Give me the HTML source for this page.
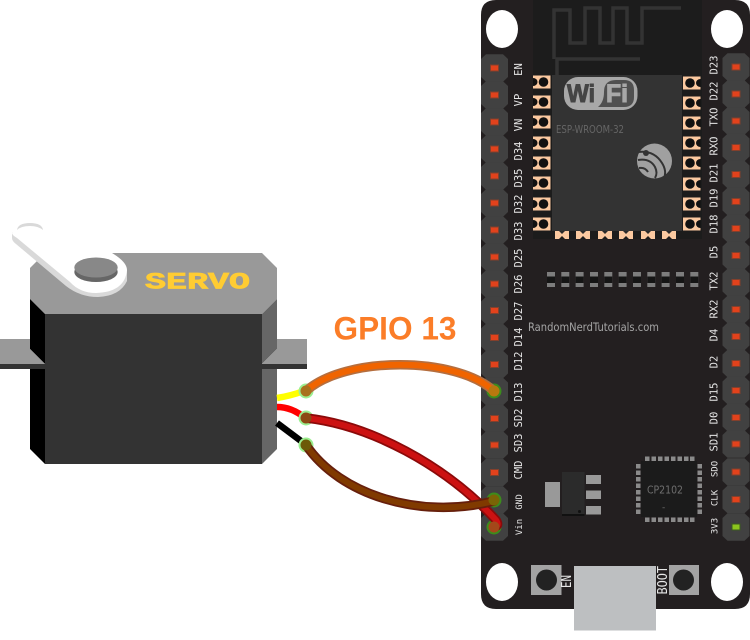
<!DOCTYPE html>
<html><head><meta charset="utf-8"><style>html,body{margin:0;padding:0;background:#fff;width:750px;height:640px;overflow:hidden}svg{display:block}</style></head><body>
<svg width="750" height="640" viewBox="0 0 750 640" xmlns="http://www.w3.org/2000/svg">
<defs>
<g id="pin"><polygon points="-13.5,-9 -8.5,-13.7 8.5,-13.7 13.5,-9 13.5,9 8.5,13.7 -8.5,13.7 -13.5,9" fill="#414141"/><rect x="-4.500" y="-3.500" width="9" height="7" fill="#84402c"/><rect x="-3.500" y="-2.500" width="7" height="5" fill="#e2421c"/></g>
<g id="padL"><rect x="-10.500" y="-6.500" width="17.500" height="13" fill="#fbc9a0"/><circle cx="0" cy="0" r="4.800" fill="#111"/><path d="M-10.500 -4A4.500 4 0 0 1 -10.500 4Z" fill="#111"/></g>
<g id="padR"><rect x="-7" y="-6.500" width="17.500" height="13" fill="#fbc9a0"/><circle cx="0" cy="0" r="4.800" fill="#111"/><path d="M10.500 -4A4.500 4 0 0 0 10.500 4Z" fill="#111"/></g>
<g id="padB"><rect x="-7" y="-4" width="14" height="8" fill="#fbc9a0"/><polygon points="-3,-4 0,-1 3,-4" fill="#2a2a2a"/><polygon points="-3,4 0,1 3,4" fill="#1c1c1c"/></g>
</defs>

<!-- Board -->
<path d="M496 0H735Q750 0 750 15V594Q750 609 735 609H496Q481 609 481 594V15Q481 0 496 0Z" fill="#231f20"/>
<ellipse cx="502" cy="29" rx="16" ry="19" fill="#fff"/><ellipse cx="727" cy="29" rx="16" ry="19" fill="#fff"/>
<ellipse cx="502" cy="582" rx="16" ry="19" fill="#fff"/><ellipse cx="727" cy="582" rx="16" ry="19" fill="#fff"/>

<!-- Module -->
<rect x="533" y="0" width="169" height="239" fill="#1c1c1c"/>
<rect x="552" y="75" width="130" height="156" fill="#333"/>
<g fill="none" stroke="#333" stroke-width="3.500">
<path d="M554 59V10H570V43H585V8H600V43H613V8H627V43H642V8H681"/>
<path d="M557 75V59H640"/>
</g>
<use href="#padL" x="543.500" y="82"/><use href="#padL" x="543.500" y="102"/><use href="#padL" x="543.500" y="122"/><use href="#padL" x="543.500" y="143"/><use href="#padL" x="543.500" y="163"/><use href="#padL" x="543.500" y="183"/><use href="#padL" x="543.500" y="204"/><use href="#padL" x="543.500" y="224"/>
<use href="#padR" x="690" y="83"/><use href="#padR" x="690" y="103"/><use href="#padR" x="690" y="123"/><use href="#padR" x="690" y="143"/><use href="#padR" x="690" y="163"/><use href="#padR" x="690" y="184"/><use href="#padR" x="690" y="204"/><use href="#padR" x="690" y="224"/>
<use href="#padB" x="562" y="235"/><use href="#padB" x="583" y="235"/><use href="#padB" x="605" y="235"/><use href="#padB" x="626" y="235"/><use href="#padB" x="648" y="235"/><use href="#padB" x="669" y="235"/>

<!-- WiFi logo -->
<rect x="564" y="77" width="73.500" height="33" rx="14" fill="#a8a8a8"/>
<path d="M598 107Q604 102 604 92Q604 80 616 80H624Q634 80 634 90V97Q634 107 624 107Z" fill="#505050"/>
<text x="567" y="102" font-family="'Liberation Sans',sans-serif" font-weight="bold" font-size="25" fill="#454545" stroke="#454545" stroke-width="1" textLength="28" lengthAdjust="spacingAndGlyphs">Wi</text>
<text x="606" y="102" font-family="'Liberation Sans',sans-serif" font-weight="bold" font-size="25" fill="#a8a8a8" stroke="#a8a8a8" stroke-width="1" textLength="22" lengthAdjust="spacingAndGlyphs">Fi</text>
<text x="556" y="133" font-family="'DejaVu Sans',sans-serif" font-size="10.500" fill="#666" textLength="68" lengthAdjust="spacingAndGlyphs">ESP-WROOM-32</text>
<!-- Espressif logo -->
<circle cx="654.500" cy="161" r="17.500" fill="#a0a0a0"/>
<g fill="none" stroke="#333" stroke-width="2">
<path d="M638 152Q654 150 662 163Q667 171 664 178"/>
<path d="M638 160Q650 158 655 167Q658 173 655 178"/>
<path d="M639 168Q645 167 648 172"/>
</g>
<circle cx="646" cy="153" r="3" fill="#333"/>

<!-- Dash row -->
<g fill="#7d7d7d">
<rect x="547" y="272" width="8" height="15"/><rect x="561.300" y="272" width="8" height="15"/><rect x="575.600" y="272" width="8" height="15"/><rect x="590" y="272" width="8" height="15"/><rect x="604.300" y="272" width="8" height="15"/><rect x="618.600" y="272" width="8" height="15"/><rect x="633" y="272" width="8" height="15"/><rect x="647.300" y="272" width="8" height="15"/><rect x="661.600" y="272" width="8" height="15"/><rect x="676" y="272" width="8" height="15"/><rect x="690.300" y="272" width="8" height="15"/>
</g>
<g fill="#151515">
<rect x="547" y="276.500" width="8" height="6.500"/><rect x="561.300" y="276.500" width="8" height="6.500"/><rect x="575.600" y="276.500" width="8" height="6.500"/><rect x="590" y="276.500" width="8" height="6.500"/><rect x="604.300" y="276.500" width="8" height="6.500"/><rect x="618.600" y="276.500" width="8" height="6.500"/><rect x="633" y="276.500" width="8" height="6.500"/><rect x="647.300" y="276.500" width="8" height="6.500"/><rect x="661.600" y="276.500" width="8" height="6.500"/><rect x="676" y="276.500" width="8" height="6.500"/><rect x="690.300" y="276.500" width="8" height="6.500"/>
</g>
<text x="528" y="331" font-family="'DejaVu Sans',sans-serif" font-size="11.500" fill="#a5a5a5" textLength="131" lengthAdjust="spacingAndGlyphs">RandomNerdTutorials.com</text>

<!-- Regulator -->
<rect x="545" y="482" width="15" height="25" fill="#999"/>
<rect x="562" y="472" width="22.500" height="44" fill="#2b2b2b"/><rect x="562" y="514" width="22.500" height="2" fill="#111"/>
<circle cx="579.500" cy="511.500" r="1.500" fill="#111"/>
<rect x="586" y="475" width="15" height="9" fill="#999"/><rect x="586" y="490.500" width="15" height="8.500" fill="#999"/><rect x="586" y="506" width="15" height="8.500" fill="#999"/>

<!-- CP2102 -->
<rect x="641" y="461" width="56" height="56" fill="#1b1b1b"/>
<g fill="#8a8a8a">
<rect x="645" y="456.500" width="4.500" height="4.500"/><rect x="651.500" y="456.500" width="4.500" height="4.500"/><rect x="658" y="456.500" width="4.500" height="4.500"/><rect x="664.500" y="456.500" width="4.500" height="4.500"/><rect x="671" y="456.500" width="4.500" height="4.500"/><rect x="677.500" y="456.500" width="4.500" height="4.500"/><rect x="684" y="456.500" width="4.500" height="4.500"/><rect x="690" y="456.500" width="4.500" height="4.500"/>
<rect x="645" y="517.500" width="4.500" height="4.500"/><rect x="651.500" y="517.500" width="4.500" height="4.500"/><rect x="658" y="517.500" width="4.500" height="4.500"/><rect x="664.500" y="517.500" width="4.500" height="4.500"/><rect x="671" y="517.500" width="4.500" height="4.500"/><rect x="677.500" y="517.500" width="4.500" height="4.500"/><rect x="684" y="517.500" width="4.500" height="4.500"/><rect x="690" y="517.500" width="4.500" height="4.500"/>
<rect x="636" y="464" width="4.500" height="4.500"/><rect x="636" y="470.500" width="4.500" height="4.500"/><rect x="636" y="477" width="4.500" height="4.500"/><rect x="636" y="483.500" width="4.500" height="4.500"/><rect x="636" y="490" width="4.500" height="4.500"/><rect x="636" y="496.500" width="4.500" height="4.500"/><rect x="636" y="503" width="4.500" height="4.500"/><rect x="636" y="509.500" width="4.500" height="4.500"/>
<rect x="697.500" y="464" width="4.500" height="4.500"/><rect x="697.500" y="470.500" width="4.500" height="4.500"/><rect x="697.500" y="477" width="4.500" height="4.500"/><rect x="697.500" y="483.500" width="4.500" height="4.500"/><rect x="697.500" y="490" width="4.500" height="4.500"/><rect x="697.500" y="496.500" width="4.500" height="4.500"/><rect x="697.500" y="503" width="4.500" height="4.500"/><rect x="697.500" y="509.500" width="4.500" height="4.500"/>
</g>
<text x="647" y="493.500" font-family="'DejaVu Sans',sans-serif" font-size="11" fill="#6f6f6f" textLength="36" lengthAdjust="spacingAndGlyphs">CP2102</text>
<text x="662" y="510" font-family="'DejaVu Sans',sans-serif" font-size="9" fill="#6f6f6f">-</text>

<!-- Buttons and USB -->
<rect x="531" y="565" width="30.500" height="30" fill="#a3a3a3"/><circle cx="546.500" cy="580" r="10.500" fill="#222"/>
<rect x="669" y="565" width="30" height="30" fill="#a3a3a3"/><circle cx="683.500" cy="580" r="10.500" fill="#222"/>
<rect x="574" y="566" width="82" height="64.500" fill="#bdbfc1"/>
<g font-family="'DejaVu Sans Mono',monospace" font-size="13" fill="#e8e8e8">
<text transform="translate(571,588) rotate(-90)" textLength="13" lengthAdjust="spacingAndGlyphs">EN</text>
<text transform="translate(667,594.500) rotate(-90)" textLength="28.500" lengthAdjust="spacingAndGlyphs">BOOT</text>
</g>

<!-- Header pins left -->
<use href="#pin" x="494.500" y="68"/><use href="#pin" x="494.500" y="95"/><use href="#pin" x="494.500" y="122"/><use href="#pin" x="494.500" y="149"/><use href="#pin" x="494.500" y="176"/><use href="#pin" x="494.500" y="203"/><use href="#pin" x="494.500" y="230"/><use href="#pin" x="494.500" y="257"/><use href="#pin" x="494.500" y="284"/><use href="#pin" x="494.500" y="310.500"/><use href="#pin" x="494.500" y="337.500"/><use href="#pin" x="494.500" y="364.500"/><use href="#pin" x="494.500" y="391.500"/><use href="#pin" x="494.500" y="418.500"/><use href="#pin" x="494.500" y="445"/><use href="#pin" x="494.500" y="472.500"/><use href="#pin" x="494.500" y="500"/><use href="#pin" x="494.500" y="527"/>
<!-- Header pins right -->
<use href="#pin" x="736" y="67"/><use href="#pin" x="736" y="94"/><use href="#pin" x="736" y="121"/><use href="#pin" x="736" y="147.500"/><use href="#pin" x="736" y="174.500"/><use href="#pin" x="736" y="201.500"/><use href="#pin" x="736" y="228.500"/><use href="#pin" x="736" y="255.500"/><use href="#pin" x="736" y="282.500"/><use href="#pin" x="736" y="309.500"/><use href="#pin" x="736" y="336.500"/><use href="#pin" x="736" y="363.500"/><use href="#pin" x="736" y="390.500"/><use href="#pin" x="736" y="417.500"/><use href="#pin" x="736" y="444"/><use href="#pin" x="736" y="472"/><use href="#pin" x="736" y="499.500"/><use href="#pin" x="736" y="527"/>
<rect x="731.500" y="523.500" width="9" height="7" fill="#3c5a20"/><rect x="732.500" y="524.500" width="7" height="5" fill="#8cc51e"/>

<!-- Pin labels left -->
<g font-family="'DejaVu Sans Mono',monospace" font-size="10.500" fill="#e6e6e6" text-anchor="middle">
<text transform="translate(522,69.500) rotate(-90)">EN</text>
<text transform="translate(522,100) rotate(-90)">VP</text>
<text transform="translate(522,125) rotate(-90)">VN</text>
<text transform="translate(522,151) rotate(-90)">D34</text>
<text transform="translate(522,178) rotate(-90)">D35</text>
<text transform="translate(522,204) rotate(-90)">D32</text>
<text transform="translate(522,231) rotate(-90)">D33</text>
<text transform="translate(522,258) rotate(-90)">D25</text>
<text transform="translate(522,284) rotate(-90)">D26</text>
<text transform="translate(522,311) rotate(-90)">D27</text>
<text transform="translate(522,337) rotate(-90)">D14</text>
<text transform="translate(522,361) rotate(-90)">D12</text>
<text transform="translate(522,392) rotate(-90)">D13</text>
<text transform="translate(522,418) rotate(-90)">SD2</text>
<text transform="translate(522,443) rotate(-90)">SD3</text>
<text transform="translate(522,470) rotate(-90)">CMD</text>
<text transform="translate(522,502) rotate(-90)" font-size="8.500">GND</text>
<text transform="translate(522,527) rotate(-90)" font-size="9">Vin</text>
<!-- Pin labels right -->
<text transform="translate(717.500,65) rotate(-90)">D23</text>
<text transform="translate(717.500,91) rotate(-90)">D22</text>
<text transform="translate(717.500,117) rotate(-90)">TXO</text>
<text transform="translate(717.500,146) rotate(-90)">RXO</text>
<text transform="translate(717.500,173) rotate(-90)">D21</text>
<text transform="translate(717.500,198) rotate(-90)">D19</text>
<text transform="translate(717.500,224) rotate(-90)">D18</text>
<text transform="translate(717.500,252) rotate(-90)">D5</text>
<text transform="translate(717.500,281) rotate(-90)">TX2</text>
<text transform="translate(717.500,309) rotate(-90)">RX2</text>
<text transform="translate(717.500,335) rotate(-90)">D4</text>
<text transform="translate(717.500,362) rotate(-90)">D2</text>
<text transform="translate(717.500,392) rotate(-90)">D15</text>
<text transform="translate(717.500,418) rotate(-90)">D0</text>
<text transform="translate(717.500,442) rotate(-90)">SD1</text>
<text transform="translate(717.500,469) rotate(-90)" font-size="9">SDO</text>
<text transform="translate(717.500,498) rotate(-90)" font-size="9">CLK</text>
<text transform="translate(717.500,526) rotate(-90)" font-size="9">3V3</text>
</g>

<!-- Servo top and arm -->
<polygon points="30,268 42,256 112,253 262,253 277,268 277,299 262,314 45,314 30,299" fill="#999"/>
<path d="M12 232V238Q12 241 16 244L66 286Q80 297 98 297Q120 296 127 281V270Z" fill="#d9d9d9"/>
<path d="M12 233Q14 222 30 223Q42 224 45 229L112 253Q127 262 127 270Q125 292 96 293Q80 293 70 282L17 238Q12 235 12 233Z" fill="#fff"/>
<path d="M17 230Q18 223 30 223Q42 223 43 230Q38 226 30 226Q21 226 17 230Z" fill="#d9d9d9"/>
<ellipse cx="96" cy="272" rx="21.700" ry="10" fill="#666"/>
<ellipse cx="96" cy="267.500" rx="21.700" ry="10" fill="#888"/>

<text x="145" y="288.500" font-family="'Liberation Mono',monospace" font-weight="bold" font-size="23" fill="#ffcc33" stroke="#ffcc33" stroke-width="0.700" textLength="105" lengthAdjust="spacingAndGlyphs">SERVO</text>

<!-- Servo body -->
<rect x="45" y="314" width="217" height="150" fill="#333"/>
<polygon points="30,299 45,314 45,364 30,349" fill="#000"/>
<polygon points="30,369 45,369 45,464 30,449" fill="#000"/>
<polygon points="262,314 277,299 277,349 262,364" fill="#666"/>
<polygon points="262,369 277,369 277,449 262,464" fill="#666"/>
<polygon points="0,339 30,339 30,349 45,364 0,364" fill="#999"/>
<polygon points="277,339 307,339 307,364 262,364 277,349" fill="#999"/>
<rect x="0" y="364" width="45" height="5" fill="#333"/>
<rect x="262" y="364" width="45" height="5" fill="#333"/>

<!-- Servo short leads -->
<g fill="none" stroke-width="6.500">
<path d="M277 398Q290 396 304 391" stroke="#ff0"/>
<path d="M277 407Q292 407 305 418" stroke="#f00"/>
<path d="M277 423L305 444" stroke="#000"/>
</g>

<!-- Halo dots at the servo end -->
<circle cx="306" cy="391" r="7.500" fill="#9bef90"/>
<circle cx="306" cy="418" r="7.500" fill="#9bef90"/>
<circle cx="306" cy="445" r="7.500" fill="#9bef90"/>
<!-- Board end dots -->
<circle cx="494" cy="391" r="7.500" fill="#3c8c1c"/>
<circle cx="494" cy="500" r="7.500" fill="#3c8c1c"/>
<circle cx="494" cy="527" r="7.500" fill="#3c8c1c"/>

<!-- Wires -->
<g fill="none" stroke-linecap="round" stroke-linejoin="round">
<path d="M306 391C345 356 455 356 494 391" stroke="#b56e3e" stroke-width="9.500"/>
<path d="M306 391C345 356 455 356 494 391" stroke="#f06400" stroke-width="6"/>
<path d="M306 418C370 425 445 465 496 520Q500 526 494 527" stroke="#8a0a0a" stroke-width="9.500"/>
<path d="M306 418C370 425 445 465 496 520Q500 526 494 527" stroke="#cc1212" stroke-width="6"/>
<path d="M306 445C340 495 420 520 494 501" stroke="#661f0c" stroke-width="9.500"/>
<path d="M306 445C340 495 420 520 494 501" stroke="#803a00" stroke-width="6"/>
</g>
<circle cx="306" cy="391" r="5.500" fill="#a8701c"/>
<circle cx="306" cy="418" r="5.500" fill="#8c4a14"/>
<circle cx="306" cy="445" r="5.500" fill="#6c5a08"/>
<circle cx="494" cy="391" r="5.500" fill="#b8780f"/>
<circle cx="494" cy="500" r="5.500" fill="#7a6406"/>
<circle cx="494" cy="527" r="5.500" fill="#a3481a"/>

<text x="333.500" y="339.500" font-family="'Liberation Sans',sans-serif" font-weight="bold" font-size="32" fill="#fb7d28" textLength="123" lengthAdjust="spacingAndGlyphs">GPIO 13</text>
</svg>
</body></html>
